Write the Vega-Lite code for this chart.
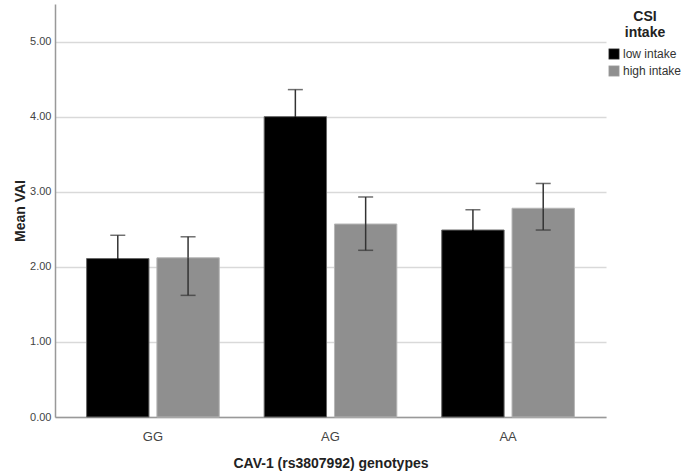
{
  "$schema": "https://vega.github.io/schema/vega-lite/v6.json",
  "width": 551,
  "height": 413,
  "autosize": "none",
  "padding": {"left": 55, "top": 4, "right": 79, "bottom": 56},
  "background": "white",
  "config": {
    "view": {"stroke": null},
    "font": "Liberation Sans",
    "axis": {"labelFont": "Liberation Sans", "titleFont": "Liberation Sans"}
  },
  "data": {
    "values": [
      {"genotype": "GG", "intake": "low intake", "mean": 2.11, "lo": 1.80, "hi": 2.42},
      {"genotype": "GG", "intake": "high intake", "mean": 2.12, "lo": 1.62, "hi": 2.40},
      {"genotype": "AG", "intake": "low intake", "mean": 4.00, "lo": 3.64, "hi": 4.36},
      {"genotype": "AG", "intake": "high intake", "mean": 2.57, "lo": 2.22, "hi": 2.93},
      {"genotype": "AA", "intake": "low intake", "mean": 2.49, "lo": 2.22, "hi": 2.76},
      {"genotype": "AA", "intake": "high intake", "mean": 2.78, "lo": 2.49, "hi": 3.11}
    ]
  },
  "encoding": {
    "x": {
      "field": "genotype", "type": "nominal", "sort": ["GG", "AG", "AA"],
      "scale": {"paddingInner": 0.253, "paddingOuter": 0.178},
      "axis": {
        "title": "CAV-1 (rs3807992) genotypes", "titleFontSize": 14, "titleFontWeight": "bold",
        "titleColor": "#222", "titlePadding": 13,
        "labelAngle": 0, "labelFontSize": 13, "labelColor": "#444", "labelPadding": 13,
        "ticks": false, "domainColor": "#999", "domainWidth": 1.5
      }
    },
    "xOffset": {
      "field": "intake", "type": "nominal", "sort": ["low intake", "high intake"],
      "scale": {"paddingInner": 0.113, "paddingOuter": 0}
    }
  },
  "layer": [
    {
      "mark": {"type": "bar", "strokeWidth": 1},
      "encoding": {
        "y": {
          "field": "mean", "type": "quantitative",
          "scale": {"domain": [0, 5.5], "nice": false},
          "axis": {
            "title": "Mean VAI", "titleFontSize": 14, "titleFontWeight": "bold", "titleColor": "#222",
            "titlePadding": 2,
            "values": [0, 1, 2, 3, 4, 5], "format": ".2f", "labelFontSize": 11, "labelColor": "#444",
            "tickSize": 0, "labelPadding": 4,
            "domainColor": "#999", "domainWidth": 1.5,
            "gridColor": "#d9d9d9", "gridWidth": 1.5
          }
        },
        "color": {
          "field": "intake", "type": "nominal", "sort": ["low intake", "high intake"],
          "scale": {"domain": ["low intake", "high intake"], "range": ["#000000", "#8f8f8f"]},
          "legend": {
            "title": ["CSI", "intake"], "orient": "none", "legendX": 553, "legendY": 6,
            "titleFontSize": 14, "titleFontWeight": "bold", "titleColor": "#222",
            "titleAnchor": "middle", "titleAlign": "center", "titleLineHeight": 16, "titlePadding": 8,
            "labelFontSize": 12, "labelColor": "#333", "labelOffset": 3,
            "symbolType": "square", "symbolSize": 110, "symbolStrokeWidth": 0.5, "symbolStrokeColor": "#777",
            "rowPadding": 3
          }
        },
        "stroke": {
          "field": "intake", "type": "nominal",
          "scale": {"domain": ["low intake", "high intake"], "range": ["#666666", "#b5b5b5"]},
          "legend": null
        }
      }
    },
    {
      "mark": {"type": "rule", "color": "#333", "strokeWidth": 1.5},
      "encoding": {
        "y": {"field": "mean", "type": "quantitative"},
        "y2": {"field": "hi"}
      }
    },
    {
      "mark": {"type": "rule", "strokeWidth": 1.5},
      "encoding": {
        "y": {"field": "lo", "type": "quantitative"},
        "y2": {"field": "mean"},
        "color": {"condition": {"test": "datum.intake === 'low intake'", "value": "#000000"}, "value": "#333333"}
      }
    },
    {
      "mark": {"type": "tick", "color": "#333", "thickness": 1.5, "size": 15},
      "encoding": {"y": {"field": "hi", "type": "quantitative"}}
    },
    {
      "mark": {"type": "tick", "thickness": 1.5, "size": 15},
      "encoding": {
        "y": {"field": "lo", "type": "quantitative"},
        "color": {"condition": {"test": "datum.intake === 'low intake'", "value": "#000000"}, "value": "#333333"}
      }
    }
  ]
}
